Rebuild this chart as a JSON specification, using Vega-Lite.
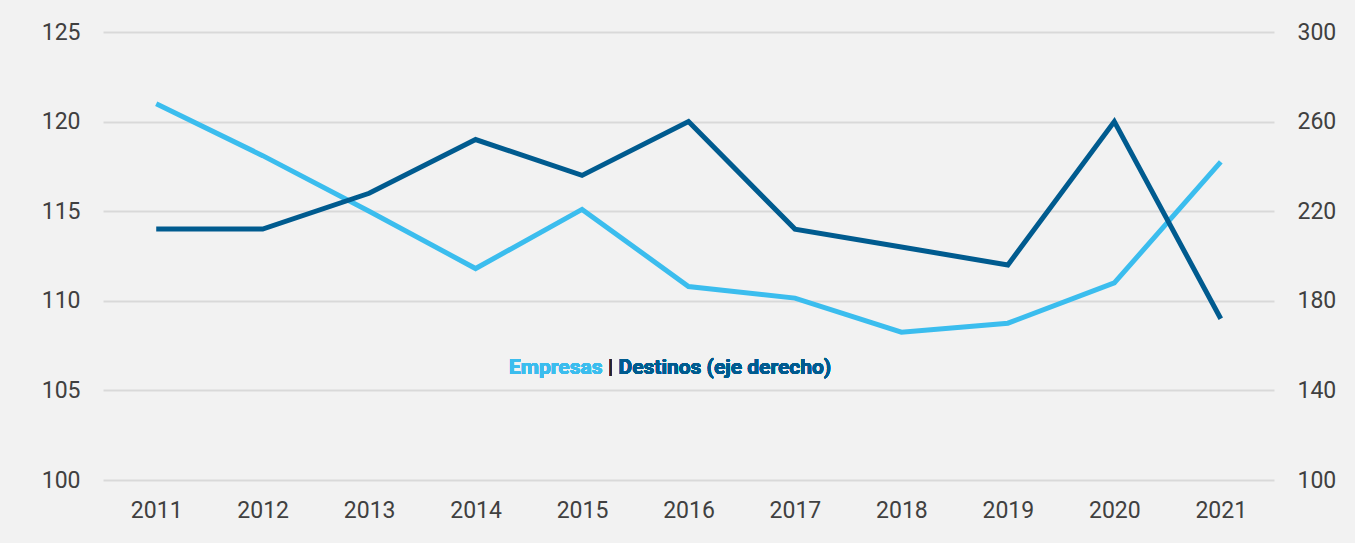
{
  "$schema": "https://vega.github.io/schema/vega-lite/v6.json",
  "width": 1171,
  "height": 448,
  "autosize": {"type": "none"},
  "padding": {"left": 103, "top": 32, "right": 81, "bottom": 63},
  "background": "#f2f2f2",
  "config": {
    "view": {"stroke": null},
    "font": "Roboto",
    "axis": {"labelFont": "Roboto", "labelColor": "#404040", "labelFontSize": 23, "domain": false, "ticks": false, "title": null}
  },
  "data": {
    "values": [
      {"year": "2011", "empresas": 121.0, "destinos": 212},
      {"year": "2012", "empresas": 118.1, "destinos": 212},
      {"year": "2013", "empresas": 115.0, "destinos": 228},
      {"year": "2014", "empresas": 111.8, "destinos": 252},
      {"year": "2015", "empresas": 115.1, "destinos": 236},
      {"year": "2016", "empresas": 110.8, "destinos": 260},
      {"year": "2017", "empresas": 110.15, "destinos": 212},
      {"year": "2018", "empresas": 108.25, "destinos": 204},
      {"year": "2019", "empresas": 108.75, "destinos": 196},
      {"year": "2020", "empresas": 111.0, "destinos": 260},
      {"year": "2021", "empresas": 117.75, "destinos": 172}
    ]
  },
  "encoding": {
    "x": {
      "field": "year", "type": "ordinal",
      "scale": {"type": "point", "padding": 0.5},
      "axis": {"labelAngle": 0, "labelPadding": 19, "grid": false}
    }
  },
  "layer": [
    {
      "layer": [
        {
          "mark": {"type": "line", "color": "#3bbdee", "strokeWidth": 5},
          "encoding": {
            "y": {
              "field": "empresas", "type": "quantitative",
              "scale": {"domain": [100, 125], "nice": false, "zero": false},
              "axis": {"orient": "left", "values": [100, 105, 110, 115, 120, 125], "grid": true, "gridColor": "#d9d9d9", "gridWidth": 2, "labelPadding": 23}
            }
          }
        },
        {
          "mark": {"type": "text", "text": "Empresas", "align": "right", "baseline": "middle", "dx": -86, "font": "Roboto", "fontSize": 21, "fontWeight": "bold", "color": "#3bbdee"},
          "encoding": {"x": {"datum": "2016"}, "y": {"datum": 106.25}}
        },
        {
          "mark": {"type": "text", "text": "|", "align": "center", "baseline": "middle", "dx": -78, "font": "Roboto", "fontSize": 21, "color": "#262626"},
          "encoding": {"x": {"datum": "2016"}, "y": {"datum": 106.25}}
        },
        {
          "mark": {"type": "text", "text": "Destinos (eje derecho)", "align": "left", "baseline": "middle", "dx": -70, "font": "Roboto", "fontSize": 21, "fontWeight": "bold", "color": "#005b8f"},
          "encoding": {"x": {"datum": "2016"}, "y": {"datum": 106.25}}
        }
      ]
    },
    {
      "mark": {"type": "line", "color": "#005b8f", "strokeWidth": 5},
      "encoding": {
        "y": {
          "field": "destinos", "type": "quantitative",
          "scale": {"domain": [100, 300], "nice": false, "zero": false},
          "axis": {"orient": "right", "values": [100, 140, 180, 220, 260, 300], "grid": false, "labelPadding": 23}
        }
      }
    }
  ],
  "resolve": {"scale": {"y": "independent"}}
}
